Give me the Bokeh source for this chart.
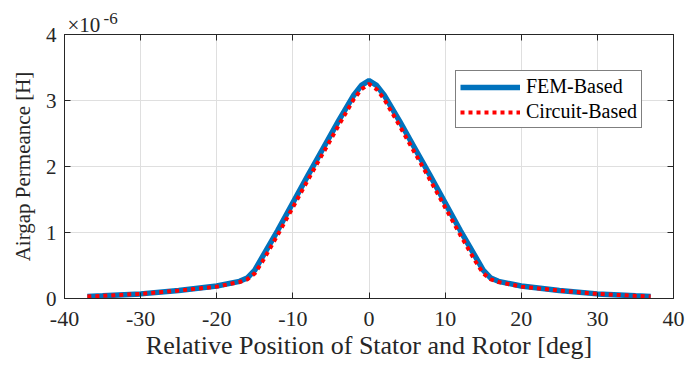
from bokeh.plotting import figure
from bokeh.models import (LinearAxis, FixedTicker, Range1d, Title, Legend, LegendItem,
                          ColumnDataSource, CustomLabelingPolicy)
from bokeh.embed import file_html
from bokeh.resources import INLINE

# Relative position [deg]
position = [-37, -35, -30, -25, -20, -17, -16, -15, -14, -12, -10, -8, -6, -4, -2, -1, 0,
            1, 2, 4, 6, 8, 10, 12, 14, 15, 16, 17, 20, 25, 30, 35, 37]
# Airgap permeance, units of 1e-6 H
fem_based = [0.03, 0.04, 0.07, 0.12, 0.19, 0.26, 0.31, 0.43, 0.63, 1.03, 1.45, 1.87, 2.28, 2.69,
             3.08, 3.23, 3.30,
             3.23, 3.08, 2.69, 2.28, 1.87, 1.45, 1.03, 0.63, 0.43, 0.31, 0.26, 0.19, 0.12, 0.07, 0.04, 0.03]
circuit_based = [0.03, 0.04, 0.07, 0.12, 0.18, 0.25, 0.29, 0.38, 0.56, 0.96, 1.38, 1.80, 2.21, 2.62,
                 3.02, 3.17, 3.25,
                 3.17, 3.02, 2.62, 2.21, 1.80, 1.38, 0.96, 0.56, 0.38, 0.29, 0.25, 0.18, 0.12, 0.07, 0.04, 0.03]
x_ticks = [-40, -30, -20, -10, 0, 10, 20, 30, 40]
y_ticks = [0, 1, 2, 3, 4]

FONT = "Liberation Serif"
INK = "#262626"

p = figure(width=686, height=368, output_backend="svg", toolbar_location=None,
           x_range=Range1d(-40, 40), y_range=Range1d(0, 4),
           min_border_left=64, min_border_right=13, min_border_top=34, min_border_bottom=70)

src = ColumnDataSource(dict(x=position, fem=fem_based, cir=circuit_based))
r1 = p.line("x", "fem", source=src, line_color="#0072BD", line_width=5.5)
r2 = p.line("x", "cir", source=src, line_color="#FF0000", line_width=4, line_dash="4 4")

# axes styling
for ax in [p.xaxis[0], p.yaxis[0]]:
    ax.major_label_text_font = FONT
    ax.major_label_text_color = INK
    ax.axis_label_text_font = FONT
    ax.axis_label_text_font_style = "normal"
    ax.axis_label_text_color = INK
    ax.major_tick_in = 6
    ax.major_tick_out = 0
    ax.minor_tick_line_color = None
    ax.axis_line_color = INK
    ax.major_tick_line_color = INK

xa, ya = p.xaxis[0], p.yaxis[0]
xa.ticker = FixedTicker(ticks=x_ticks)
ya.ticker = FixedTicker(ticks=y_ticks)
xa.major_label_overrides = {t: str(t) for t in x_ticks}
ya.major_label_overrides = {t: str(t) for t in y_ticks}
xa.axis_label = "Relative Position of Stator and Rotor [deg]"
ya.axis_label = "Airgap Permeance [H]"
xa.major_label_text_font_size = "22px"
ya.major_label_text_font_size = "21px"
xa.axis_label_text_font_size = "26px"
ya.axis_label_text_font_size = "21px"
xa.major_label_standoff = 13
ya.major_label_standoff = 8
xa.axis_label_standoff = 2
ya.axis_label_standoff = 8

no_labels = CustomLabelingPolicy(code="""
const arr = [...indices];
for (const i of arr) { indices.unset(i); }
return indices;
""")
top_axis = LinearAxis(ticker=FixedTicker(ticks=x_ticks))
right_axis = LinearAxis(ticker=FixedTicker(ticks=y_ticks))
for ax in (top_axis, right_axis):
    ax.major_label_policy = no_labels
    ax.major_label_standoff = 0
    ax.major_tick_in = 6
    ax.major_tick_out = 0
    ax.minor_tick_line_color = None
    ax.axis_line_color = INK
    ax.major_tick_line_color = INK
p.add_layout(top_axis, "above")
p.add_layout(right_axis, "right")

p.xgrid.ticker = FixedTicker(ticks=x_ticks)
p.ygrid.ticker = FixedTicker(ticks=y_ticks)
p.grid.grid_line_color = "#dfdfdf"
p.grid.grid_line_width = 1
p.outline_line_color = INK
p.background_fill_color = "white"
p.border_fill_color = "white"

# exponent (×10^-6) as two titles above the frame
p.title.text = ""
t1 = Title(text="×10", align="left", offset=3, standoff=-26,
           text_font=FONT, text_font_size="21px", text_font_style="normal", text_color=INK)
t2 = Title(text="-6", align="left", offset=39, standoff=-1,
           text_font=FONT, text_font_size="17px", text_font_style="normal", text_color=INK)
p.add_layout(t1, "above")
p.add_layout(t2, "above")

legend = Legend(items=[LegendItem(label="FEM-Based", renderers=[r1]),
                       LegendItem(label="Circuit-Based", renderers=[r2])],
                location=(391, 170))
legend.label_text_font = FONT
legend.label_text_font_size = "20px"
legend.label_text_color = "black"
legend.glyph_width = 60
legend.glyph_height = 18
legend.label_standoff = 6
legend.padding = 4
legend.spacing = 2
legend.margin = 0
legend.border_line_color = "black"
legend.border_line_width = 1
legend.background_fill_alpha = 1
p.add_layout(legend, "center")

open("out.html", "w").write(file_html(p, INLINE))
